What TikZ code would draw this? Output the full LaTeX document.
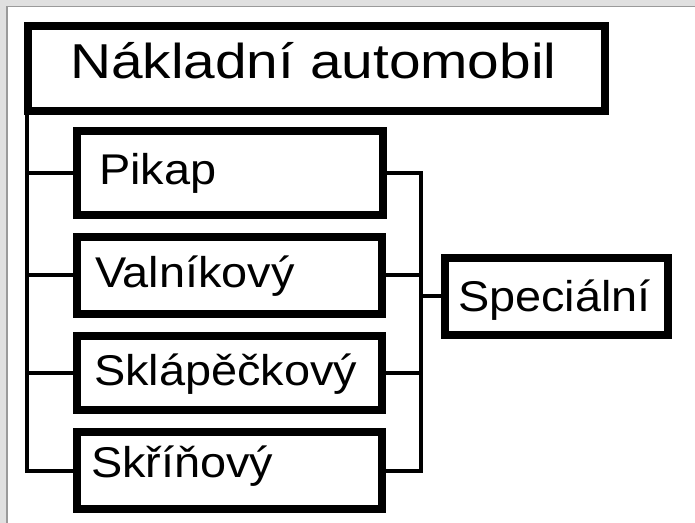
\documentclass[tikz,border=0pt]{standalone}
\usepackage{fontspec}
\setmainfont{Liberation Sans}
\newdimen\px \px=0.75pt
\definecolor{panelgrey}{HTML}{E0E0E0}
\definecolor{edgegrey}{HTML}{9A9A9A}
\tikzset{
  box/.style={draw=black, line width=8\px, inner sep=0pt, outer sep=0pt, fill=white},
  conn/.style={draw=black, line width=4\px},
  lbl/.style={anchor=base west, inner sep=0pt, outer sep=0pt},
  bigtxt/.style={font=\fontsize{36.75pt}{40pt}\selectfont},
  smalltxt/.style={font=\fontsize{32.25pt}{36pt}\selectfont},
}
\newcommand{\wide}[2]{\scalebox{#1}[1]{#2}}
\begin{document}
\begin{tikzpicture}[x=0.75pt,y=-0.75pt]
  \useasboundingbox (0,0) rectangle (695,523);
  \fill[white] (0,0) rectangle (695,523);
  \fill[panelgrey] (0,0) rectangle (695,6);
  \fill[panelgrey] (0,0) rectangle (7,523);
  \draw[edgegrey, line width=1.5\px] (7,523) -- (7,6.5) -- (695,6.5);

  % boxes
  \node[box, minimum width=577\px, minimum height=85\px] (main) at (316.5,68.5) {};
  \node[box, minimum width=306\px, minimum height=84\px] (pikap) at (230,173) {};
  \node[box, minimum width=305\px, minimum height=77\px] (valn) at (229.5,275.5) {};
  \node[box, minimum width=305\px, minimum height=74\px] (skl) at (229.5,373) {};
  \node[box, minimum width=305\px, minimum height=77\px] (skr) at (229.5,470.5) {};
  \node[box, minimum width=223\px, minimum height=77\px] (spec) at (556.5,296.5) {};

  % labels
  \node[lbl, bigtxt] (tmain) at (70,79) {\wide{1.16}{Nákladní automobil}};
  \node[lbl, smalltxt] (tpikap) at (99,185) {\wide{1.09}{Pikap}};
  \node[lbl, smalltxt] (tvaln) at (95,288) {\wide{1.09}{Valníkový}};
  \node[lbl, smalltxt] (tskl) at (94,385) {\wide{1.09}{Sklápěčkový}};
  \node[lbl, smalltxt] (tskr) at (91,477) {\wide{1.09}{Skříňový}};
  \node[lbl, smalltxt] (tspec) at (458,312) {\wide{1.09}{Speciální}};

  % left trunk
  \coordinate (t0) at (27,111);
  \draw[conn] (t0) |- (skr.west);
  \draw[conn] (t0 |- pikap.west) -- (pikap.west);
  \draw[conn] (t0 |- valn.west) -- (valn.west);
  \draw[conn] (t0 |- skl.west) -- (skl.west);

  % right bar
  \coordinate (rb) at (420.5,0);
  \draw[conn] (pikap.east) -- (pikap.east -| rb) -- (skr.east -| rb) -- (skr.east);
  \draw[conn] (valn.east) -- (valn.east -| rb);
  \draw[conn] (skl.east) -- (skl.east -| rb);
  \draw[conn] (spec.west -| rb) -- (spec.west);
\end{tikzpicture}
\end{document}
